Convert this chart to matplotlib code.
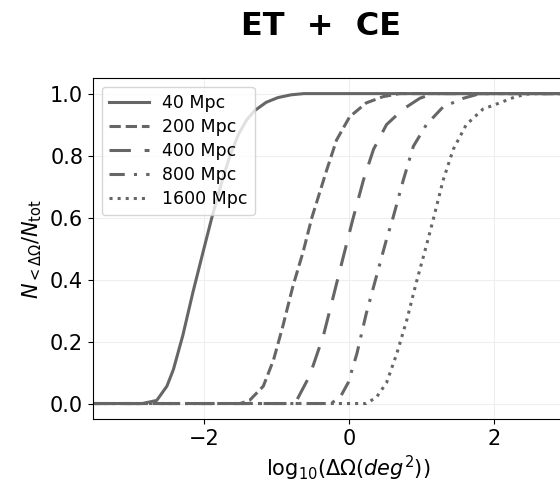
#!/usr/bin/env python3
"""Cumulative sky-localisation area for ET + CE at several distances."""
import matplotlib
matplotlib.use("Agg")
import matplotlib.pyplot as plt

labels = ["40 Mpc", "200 Mpc", "400 Mpc", "800 Mpc", "1600 Mpc"]

# log10(sky area / deg^2) and cumulative fraction
x_40 = [-3.6, -2.85, -2.65, -2.51, -2.42, -2.29, -2.15, -2.01, -1.89, -1.76,
        -1.64, -1.52, -1.41, -1.30, -1.14, -0.98, -0.80, -0.62, 3.6]
y_40 = [0.0, 0.0, 0.01, 0.056, 0.11, 0.22, 0.36, 0.49, 0.60, 0.71,
        0.80, 0.87, 0.915, 0.945, 0.972, 0.987, 0.996, 1.0, 1.0]

x_200 = [-3.6, -1.5, -1.37, -1.18, -1.04, -0.91, -0.77, -0.63, -0.51, -0.31,
         -0.17, 0.01, 0.24, 0.47, 0.70, 3.6]
y_200 = [0.0, 0.0, 0.01, 0.056, 0.14, 0.25, 0.38, 0.49, 0.60, 0.75,
         0.85, 0.925, 0.97, 0.99, 1.0, 1.0]

x_400 = [-3.6, -0.85, -0.72, -0.54, -0.35, -0.22, -0.08, 0.05, 0.20, 0.34,
         0.52, 0.75, 0.98, 1.16, 3.6]
y_400 = [0.0, 0.0, 0.01, 0.09, 0.22, 0.34, 0.47, 0.59, 0.72, 0.82,
         0.90, 0.95, 0.985, 1.0, 1.0]

x_800 = [-3.6, -0.25, -0.12, -0.01, 0.11, 0.24, 0.38, 0.52, 0.61, 0.75,
         0.89, 1.07, 1.30, 1.58, 1.81, 3.6]
y_800 = [0.0, 0.0, 0.02, 0.067, 0.16, 0.29, 0.41, 0.53, 0.60, 0.72,
         0.83, 0.90, 0.957, 0.985, 1.0, 1.0]

x_1600 = [-3.6, 0.24, 0.38, 0.52, 0.66, 0.80, 0.93, 1.07, 1.16, 1.30,
          1.44, 1.62, 1.85, 2.08, 2.30, 2.50, 3.6]
y_1600 = [0.0, 0.0, 0.02, 0.067, 0.16, 0.27, 0.39, 0.51, 0.59, 0.72,
          0.82, 0.90, 0.95, 0.97, 0.99, 1.0, 1.0]

xs = [x_40, x_200, x_400, x_800, x_1600]
ys = [y_40, y_200, y_400, y_800, y_1600]
styles = [dict(ls="-"), dict(ls="--"), dict(dashes=(7, 4.5)),
          dict(dashes=(5, 3, 1, 3)), dict(ls=":")]

fig = plt.figure(figsize=(5.6, 4.87), dpi=100)
ax = fig.add_axes([0.166, 0.1396, 0.910, 0.700])

for x, y, lab, st in zip(xs, ys, labels, styles):
    ax.plot(x, y, color="#666666", lw=2.2, label=lab, **st)

ax.set_xlim(-3.53, 3.5)
ax.set_ylim(-0.05, 1.05)
ax.set_xticks([-2, 0, 2])
ax.set_yticks([0.0, 0.2, 0.4, 0.6, 0.8, 1.0])
ax.tick_params(labelsize=15)
ax.grid(True, color="#eeeeee", lw=0.8)
ax.set_xlabel(r"log$_{10}$($\Delta\Omega(deg^2)$)", fontsize=15)
ax.set_ylabel(r"$N_{<\Delta\Omega}/N_{\rm tot}$", fontsize=15)
ax.legend(loc="upper left", fontsize=12.5, handlelength=2.3, labelspacing=0.35)

fig.text(321 / 560, 0.945, "ET  +  CE", ha="center", va="center",
         fontsize=23, fontweight="bold")

fig.savefig("out.png", dpi=100)
print("wrote out.png")
